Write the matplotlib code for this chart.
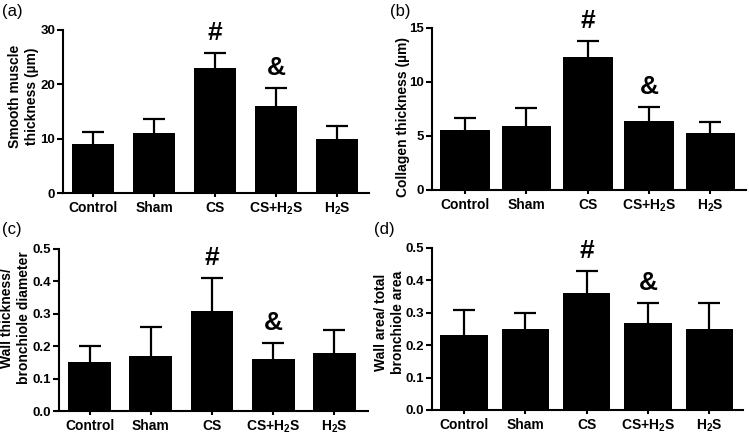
import matplotlib
matplotlib.use("Agg")
import matplotlib.pyplot as plt

plt.rcParams["font.family"] = ["Liberation Sans", "DejaVu Sans"]
plt.rcParams["font.weight"] = "bold"
plt.rcParams["mathtext.fontset"] = "custom"
plt.rcParams["mathtext.rm"] = "Liberation Sans:bold"
plt.rcParams["mathtext.bf"] = "Liberation Sans:bold"
plt.rcParams["mathtext.it"] = "Liberation Sans:bold"
plt.rcParams["mathtext.default"] = "bf"

# group names on the x axis
groups = ["Control", "Sham", "CS", r"CS+H$_2$S", r"H$_2$S"]

# (a) smooth muscle thickness (um)
smooth_mean = [9.0, 11.0, 23.0, 16.0, 10.0]
smooth_sd = [2.2, 2.6, 2.8, 3.3, 2.3]

# (b) collagen thickness (um)
collagen_mean = [5.55, 5.95, 12.35, 6.35, 5.25]
collagen_sd = [1.15, 1.6, 1.45, 1.3, 1.05]

# (c) wall thickness / bronchiole diameter
wall_diam_mean = [0.15, 0.17, 0.31, 0.16, 0.18]
wall_diam_sd = [0.05, 0.09, 0.10, 0.05, 0.07]

# (d) wall area / total bronchiole area
wall_area_mean = [0.23, 0.25, 0.36, 0.27, 0.25]
wall_area_sd = [0.08, 0.05, 0.07, 0.06, 0.08]

# significance marks: (bar index, symbol)
marks = [(2, "#"), (3, "&")]

W, H = 749, 434
fig = plt.figure(figsize=(W / 100, H / 100), dpi=100)


def px_rect(left, top, right, bottom):
    return [left / W, 1 - bottom / H, (right - left) / W, (bottom - top) / H]


panels = [
    dict(tag="(a)", rect=px_rect(63, 30, 369, 193), mean=smooth_mean, sd=smooth_sd,
         ylabel="Smooth muscle\nthickness (µm)", ylim=30, step=10, fmt="{:.0f}",
         xlim=(-0.49, 4.52), width=0.69, tag_xy=(2, 4), lab_xy=(-0.13, 0.595)),
    dict(tag="(b)", rect=px_rect(432, 28, 746, 190), mean=collagen_mean, sd=collagen_sd,
         ylabel="Collagen thickness (µm)", ylim=15, step=5, fmt="{:.0f}",
         xlim=(-0.54, 4.58), width=0.81, tag_xy=(390, 4), lab_xy=(-0.092, 0.45)),
    dict(tag="(c)", rect=px_rect(59, 249, 368, 411), mean=wall_diam_mean, sd=wall_diam_sd,
         ylabel="Wall thickness/\nbronchiole diameter", ylim=0.5, step=0.1, fmt="{:.1f}",
         xlim=(-0.5, 4.55), width=0.7, tag_xy=(2, 222), lab_xy=(-0.14, 0.574)),
    dict(tag="(d)", rect=px_rect(432, 248, 743, 410), mean=wall_area_mean, sd=wall_area_sd,
         ylabel="Wall area/ total\nbronchiole area", ylim=0.5, step=0.1, fmt="{:.1f}",
         xlim=(-0.52, 4.55), width=0.77, tag_xy=(374, 222), lab_xy=(-0.137, 0.543)),
]

for p in panels:
    ax = fig.add_axes(p["rect"])
    x = list(range(len(groups)))
    ax.bar(x, p["mean"], width=p["width"], color="black", zorder=2)
    _, caps, _ = ax.errorbar(x, p["mean"], yerr=[[0] * len(x), p["sd"]], fmt="none",
                             ecolor="black", elinewidth=1.6, capsize=8, capthick=1.6,
                             zorder=1)
    caps[0].set_visible(False)  # keep only the upper cap
    for i, sym in marks:
        ax.annotate(sym, xy=(i, p["mean"][i] + p["sd"][i]), xytext=(0, 14.5),
                    textcoords="offset points", ha="center", va="center",
                    fontsize=19, fontweight="bold")

    ax.set_xlim(*p["xlim"])
    ax.set_ylim(0, p["ylim"])
    n = int(round(p["ylim"] / p["step"]))
    ticks = [k * p["step"] for k in range(n + 1)]
    ax.set_yticks(ticks)
    ax.set_yticklabels([p["fmt"].format(t) for t in ticks], fontsize=9.5, fontweight="bold")
    ax.set_xticks(x)
    ax.set_xticklabels(groups, fontsize=10, fontweight="bold")
    ax.tick_params(axis="x", length=3, width=1.5, pad=2.5)
    ax.tick_params(axis="y", length=4, width=1.5, pad=1.5)
    ax.set_ylabel(p["ylabel"], fontsize=10, fontweight="bold", linespacing=1.25)
    ax.yaxis.label.set_verticalalignment("center")
    ax.yaxis.set_label_coords(*p["lab_xy"])
    for side in ("top", "right"):
        ax.spines[side].set_visible(False)
    for side in ("left", "bottom"):
        ax.spines[side].set_linewidth(1.5)
    fig.text(p["tag_xy"][0] / W, 1 - p["tag_xy"][1] / H, p["tag"], fontsize=12,
             fontweight="normal", ha="left", va="top")

fig.savefig("out.png", dpi=100)
